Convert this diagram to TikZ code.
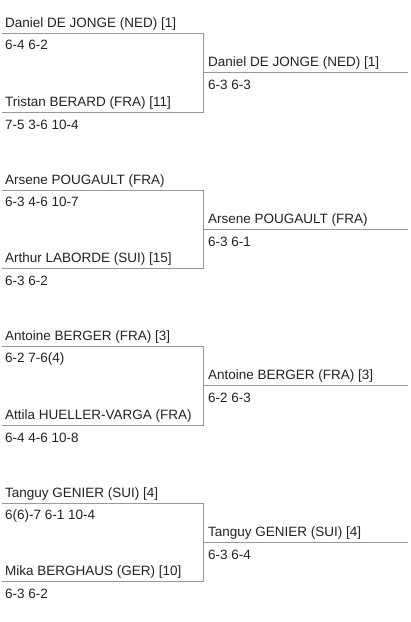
\documentclass[tikz,border=0pt]{standalone}
\usepackage{fontspec}
\setmainfont{Liberation Sans}
\usepackage{tikz}
\definecolor{rulegray}{HTML}{999999}
\definecolor{inkgray}{HTML}{222222}
\tikzset{
  bracket/.style={draw=rulegray, line width=1pt},
  player/.style={anchor=base west, inner sep=0pt, text=inkgray, font=\fontsize{13.5}{16}\selectfont},
  score/.style={player}
}

\begin{document}
\begin{tikzpicture}[x=1pt,y=-1pt]
        \useasboundingbox (0,0) rectangle (411,622);
        % match 1
        \coordinate (t1) at (2,33.3);
        \coordinate (v1) at (203,33.3);
        \coordinate (w1) at (203,112);
        \coordinate (b1) at (2,112);
        \coordinate (m1) at (203,72.3);
        \coordinate (e1) at (408,72.3);
        \draw[bracket] (t1) -- (v1) -- (w1) -- (b1);
        \draw[bracket] (m1) -- (e1);
        \node[player] (p1a) at (5,27.3) {Daniel DE JONGE (NED) [1]};
        \node[score] (s1a) at (5,49.3) {6-4 6-2};
        \node[player] (p1b) at (5,106) {Tristan BERARD (FRA) [11]};
        \node[score] (s1b) at (5,129) {7-5 3-6 10-4};
        \node[player] (w1a) at (208,66.3) {Daniel DE JONGE (NED) [1]};
        \node[score] (w1b) at (208,89.3) {6-3 6-3};
        % match 2
        \coordinate (t2) at (2,190.7);
        \coordinate (v2) at (203,190.7);
        \coordinate (w2) at (203,268.3);
        \coordinate (b2) at (2,268.3);
        \coordinate (m2) at (203,229.3);
        \coordinate (e2) at (408,229.3);
        \draw[bracket] (t2) -- (v2) -- (w2) -- (b2);
        \draw[bracket] (m2) -- (e2);
        \node[player] (p2a) at (5,184.7) {Arsene POUGAULT (FRA)};
        \node[score] (s2a) at (5,206.7) {6-3 4-6 10-7};
        \node[player] (p2b) at (5,262.3) {Arthur LABORDE (SUI) [15]};
        \node[score] (s2b) at (5,285.3) {6-3 6-2};
        \node[player] (w2a) at (208,223.3) {Arsene POUGAULT (FRA)};
        \node[score] (w2b) at (208,246.3) {6-3 6-1};
        % match 3
        \coordinate (t3) at (2,346.7);
        \coordinate (v3) at (203,346.7);
        \coordinate (w3) at (203,425.7);
        \coordinate (b3) at (2,425.7);
        \coordinate (m3) at (203,385.3);
        \coordinate (e3) at (408,385.3);
        \draw[bracket] (t3) -- (v3) -- (w3) -- (b3);
        \draw[bracket] (m3) -- (e3);
        \node[player] (p3a) at (5,340.7) {Antoine BERGER (FRA) [3]};
        \node[score] (s3a) at (5,362.7) {6-2 7-6(4)};
        \node[player] (p3b) at (5,419.7) {Attila HUELLER-VARGA (FRA)};
        \node[score] (s3b) at (5,442.7) {6-4 4-6 10-8};
        \node[player] (w3a) at (208,379.3) {Antoine BERGER (FRA) [3]};
        \node[score] (w3b) at (208,402.3) {6-2 6-3};
        % match 4
        \coordinate (t4) at (2,503.3);
        \coordinate (v4) at (203,503.3);
        \coordinate (w4) at (203,581);
        \coordinate (b4) at (2,581);
        \coordinate (m4) at (203,542.3);
        \coordinate (e4) at (408,542.3);
        \draw[bracket] (t4) -- (v4) -- (w4) -- (b4);
        \draw[bracket] (m4) -- (e4);
        \node[player] (p4a) at (5,497.3) {Tanguy GENIER (SUI) [4]};
        \node[score] (s4a) at (5,519.3) {6(6)-7 6-1 10-4};
        \node[player] (p4b) at (5,575) {Mika BERGHAUS (GER) [10]};
        \node[score] (s4b) at (5,598) {6-3 6-2};
        \node[player] (w4a) at (208,536.3) {Tanguy GENIER (SUI) [4]};
        \node[score] (w4b) at (208,559.3) {6-3 6-4};
\end{tikzpicture}
\end{document}
